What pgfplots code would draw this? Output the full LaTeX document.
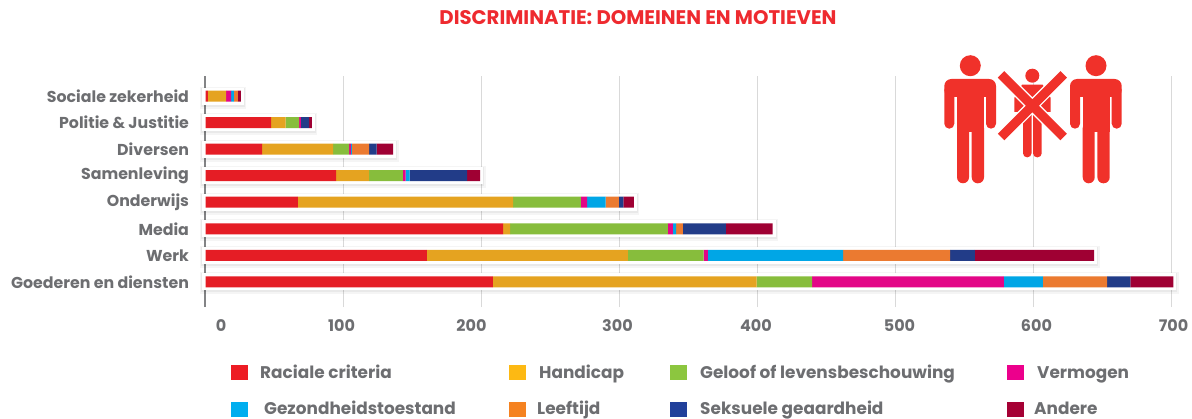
\documentclass[border=0pt]{standalone}
\usepackage{pgfplots}
\usepackage{pgfplotstable}
\usepackage{fontspec}
\pgfplotsset{compat=1.18}
\setmainfont{Poppins}
\definecolor{txt}{HTML}{6D6E71}
\definecolor{ttl}{HTML}{EE2A2F}
\definecolor{ico}{HTML}{F0312A}
\definecolor{cA}{HTML}{E51D25}
\definecolor{cB}{HTML}{E5A320}
\definecolor{cC}{HTML}{87BD3C}
\definecolor{cD}{HTML}{E30687}
\definecolor{cE}{HTML}{00A6E6}
\definecolor{cF}{HTML}{EB7A30}
\definecolor{cG}{HTML}{223C88}
\definecolor{cH}{HTML}{9F0033}
\definecolor{lA}{HTML}{ED1C24}
\definecolor{lB}{HTML}{FDB913}
\definecolor{lC}{HTML}{8CC63F}
\definecolor{lD}{HTML}{EC008C}
\definecolor{lE}{HTML}{00AEEF}
\definecolor{lF}{HTML}{F58220}
\definecolor{lG}{HTML}{21409A}
\definecolor{lH}{HTML}{A50034}
\pgfplotstableread{
y A B C D E F G H total
0 208.3 191.1 40.2 139.0 28.1 46.6 16.9 31.2 701.4
1 160.5 145.5 55.0 3.0 98.0 77.5 18.1 86.4 644
2 215.7 5.1 114.2 3.7 2.3 5.0 31.0 34.0 411
3 67.0 156.0 49.0 4.5 13.5 9.6 3.2 7.7 310.5
4 94.6 23.9 24.5 2.0 3.0 0 41.5 9.5 199
5 41.0 51.4 11.6 1.4 0.6 12.5 5.5 12.0 136
6 47.5 10.5 9.8 1.4 0 0 5.8 2.0 77
7 1.8 13.1 0 3.6 2.1 2.9 0 2.2 25.7
}\data
\pgfplotsset{base/.style={
  scale only axis, width=966pt, height=231pt, at={(205.5pt,111pt)}, anchor=south west,
  xmin=0, xmax=700, ymin=-0.95, ymax=7.76, clip=false}}
\newcommand{\man}[1]{%
  \begin{scope}[xshift=#1pt]
  \fill[ico] (970.3,65.7) circle (10.5);
  \fill[ico,rounded corners=7] (944.3,79) rectangle (996,97);
  \fill[ico,rounded corners=5] (944.3,85) rectangle (954.3,128.7);
  \fill[ico,rounded corners=5] (986,85) rectangle (996,128.7);
  \fill[ico] (957,82) rectangle (984,132);
  \fill[ico,rounded corners=6] (957,122) rectangle (969,183.3);
  \fill[ico,rounded corners=6] (971.7,122) rectangle (984,183.3);
  \end{scope}}
\begin{document}
\begin{tikzpicture}[x=1pt,y=1pt,font=\bfseries]
\path[use as bounding box] (0,0) rectangle (1192,418);
\begin{axis}[base,
  axis x line*=bottom, axis y line*=left,
  x axis line style={draw=none},
  y axis line style={draw=txt!85,line width=2pt,-},
  major tick length=0pt,
  xmajorgrids, grid style={draw=black!15,line width=1.5pt},
  xtick={0,100,200,300,400,500,600,700},
  xticklabels={\kern31pt 0,100\kern4pt,200\kern20pt,300\kern4pt,400\kern3pt,\kern8pt 500,\kern6pt 600,\kern4pt 700},
  ytick={0,...,7},
  yticklabels={Goederen en diensten,Werk,Media,Onderwijs,Samenleving,Diversen,Politie \& Justitie,Sociale zekerheid},
  /pgf/number format/assume math mode=true,
  x tick label style={font=\bfseries\fontsize{16}{16}\selectfont,text=txt,yshift=-9pt},
  y tick label style={font=\bfseries\fontsize{15.8}{16}\selectfont,text=txt,anchor=east,xshift=-13pt},
  xbar, 
]
\addplot[draw=black,fill=black,opacity=.04,line width=11pt,bar width=11pt,bar shift=-1.5pt] table[x=total,y=y]{\data};
\addplot[draw=black,fill=black,opacity=.05,line width=8pt,bar width=11pt,bar shift=-1pt] table[x=total,y=y]{\data};
\addplot[draw=white,fill=white,line width=6pt,bar width=11pt,bar shift=0pt] table[x=total,y=y]{\data};
\end{axis}
\begin{axis}[base, hide axis, xbar stacked, bar width=11pt]
\addplot[draw=none,fill=cA] table[x=A,y=y]{\data};
\addplot[draw=none,fill=cB] table[x=B,y=y]{\data};
\addplot[draw=none,fill=cC] table[x=C,y=y]{\data};
\addplot[draw=none,fill=cD] table[x=D,y=y]{\data};
\addplot[draw=none,fill=cE] table[x=E,y=y]{\data};
\addplot[draw=none,fill=cF] table[x=F,y=y]{\data};
\addplot[draw=none,fill=cG] table[x=G,y=y]{\data};
\addplot[draw=none,fill=cH] table[x=H,y=y]{\data};
\end{axis}
\begin{scope}[shift={(0,418)},yscale=-1]
\node[text=ttl,font=\bfseries\fontsize{19.7}{20}\selectfont] at (638,18) {DISCRIMINATIE: DOMEINEN EN MOTIEVEN};
% icon
\man{0}\man{125.7}
\fill[ico] (1032.3,75.7) circle (7);
\fill[ico] (1022,84.7) -- (1042.7,84.7) -- (1050.7,98) -- (1050.7,112) -- (1014.3,112) -- (1014.3,98) -- cycle;
\fill[ico,rounded corners=4] (1023,100) rectangle (1031.5,157.3);
\fill[ico,rounded corners=4] (1033,100) rectangle (1041.7,157.3);
\draw[white,line width=12pt] (1001,74.3) -- (1063.7,137) (1063.7,74.3) -- (1001,137);
\draw[ico,line width=9.2pt] (1001,74.3) -- (1063.7,137) (1063.7,74.3) -- (1001,137);
% legend
\foreach \x/\y/\c/\tx/\bl/\t in {
 231/365/lA/260/378/Raciale criteria,
 509/365/lB/539/378/Handicap,
 670/365/lC/700/378/Geloof of levensbeschouwing,
 1007/365/lD/1037/378/Vermogen,
 231/402/lE/264/414/Gezondheidstoestand,
 509/402/lF/537/414/Leeftijd,
 670/402/lG/700/414/Seksuele geaardheid,
 1007/402/lH/1034/414/Andere}{
  \fill[\c] (\x,\y) rectangle ++(17,15);
  \node[anchor=base west,inner sep=0pt,text=txt,font=\bfseries\fontsize{16.9}{17}\selectfont] at (\tx,\bl) {\t};
}
\end{scope}
\end{tikzpicture}
\end{document}
